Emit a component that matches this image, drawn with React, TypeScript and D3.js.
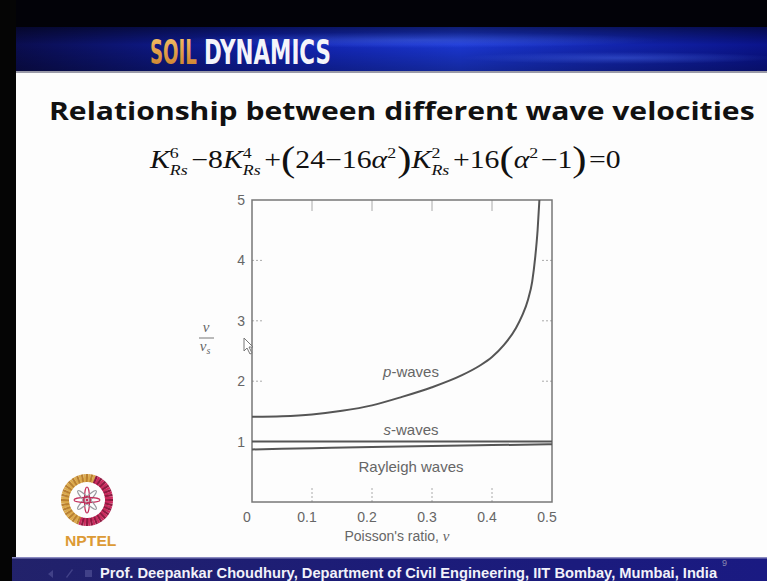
import React, { useLayoutEffect, useRef, useState } from "react";
import * as d3 from "d3";

// Poisson's ratio samples and velocity ratios v / v_s
const nuP = [0, 0.05, 0.1, 0.15, 0.2, 0.25, 0.3, 0.35, 0.38, 0.4, 0.42, 0.44, 0.45, 0.46, 0.467, 0.472, 0.476, 0.479];
const pWave = [1.41, 1.42, 1.45, 1.51, 1.6, 1.74, 1.9, 2.1, 2.26, 2.4, 2.6, 2.88, 3.08, 3.35, 3.65, 4.05, 4.5, 5.0];
const nuS = [0, 0.5];
const sWave = [1.0, 1.0];
const nuR = [0, 0.1, 0.2, 0.3, 0.4, 0.5];
const rayleigh = [0.87, 0.89, 0.91, 0.928, 0.942, 0.955];

const xTicks = [0, 0.1, 0.2, 0.3, 0.4, 0.5];
const yTicks = [1, 2, 3, 4, 5];
const innerXTicks = [0.1, 0.2, 0.3, 0.4];
const innerYTicks = [2, 3, 4];

const W = 767;
const H = 581;

const sans = "'Liberation Sans', Arial, Helvetica, sans-serif";
const serif = "'Liberation Serif', 'Times New Roman', serif";
const condensed = "'DejaVu Sans Condensed', 'Liberation Sans Narrow', sans-serif";

// Text squeezed horizontally to a given width, measured after layout
function FitText({ x, y, width, children, ...rest }: any) {
  const ref = useRef<SVGTextElement>(null);
  const [sx, setSx] = useState(1);
  useLayoutEffect(() => {
    if (ref.current) {
      const b = ref.current.getBBox();
      if (b.width > 0) setSx(width / b.width);
    }
  }, [width]);
  return (
    <g transform={`translate(${x},${y}) scale(${sx},1)`}>
      <text ref={ref} x={0} y={0} {...rest}>
        {children}
      </text>
    </g>
  );
}

function Equation() {
  const sub = 15;
  const big = 36;
  return (
    <FitText x={150} y={168} width={472} fontFamily={serif} fontSize={25} fill="#111">
      <tspan fontStyle="italic">K</tspan>
      <tspan fontSize={sub} dy={-10}>6</tspan>
      <tspan fontSize={sub} fontStyle="italic" dx={-7.5} dy={17}>Rs</tspan>
      <tspan dy={-7} dx={3}>−8</tspan>
      <tspan fontStyle="italic">K</tspan>
      <tspan fontSize={sub} dy={-10}>4</tspan>
      <tspan fontSize={sub} fontStyle="italic" dx={-7.5} dy={17}>Rs</tspan>
      <tspan dy={-7} dx={3}>+</tspan>
      <tspan fontSize={big} dy={3}>(</tspan>
      <tspan dy={-3}>24−16</tspan>
      <tspan fontStyle="italic">α</tspan>
      <tspan fontSize={sub} dy={-10}>2</tspan>
      <tspan fontSize={big} dy={13} dx={1}>)</tspan>
      <tspan fontStyle="italic" dy={-3}>K</tspan>
      <tspan fontSize={sub} dy={-10}>2</tspan>
      <tspan fontSize={sub} fontStyle="italic" dx={-7.5} dy={17}>Rs</tspan>
      <tspan dy={-7} dx={3}>+16</tspan>
      <tspan fontSize={big} dy={3}>(</tspan>
      <tspan fontStyle="italic" dy={-3}>α</tspan>
      <tspan fontSize={sub} dy={-10}>2</tspan>
      <tspan dy={10} dx={2}>−1</tspan>
      <tspan fontSize={big} dy={3}>)</tspan>
      <tspan dy={-3} dx={2}>=0</tspan>
    </FitText>
  );
}

function NptelLogo() {
  const cx = 87;
  const cy = 500;
  const n = 64;
  const stripes = d3.range(n).map((i) => {
    const a = (i / n) * Math.PI * 2;
    const left = Math.cos(a - 0.35) < 0;
    const color = left ? (i % 2 ? "#dcaa4c" : "#b98030") : i % 2 ? "#cc2a5e" : "#8e1a40";
    return (
      <line
        key={i}
        x1={cx + Math.cos(a) * 18}
        y1={cy + Math.sin(a) * 18}
        x2={cx + Math.cos(a) * 26}
        y2={cy + Math.sin(a) * 26}
        stroke={color}
        strokeWidth={2.4}
      />
    );
  });
  const petals = d3.range(4).map((i) => (
    <ellipse
      key={i}
      cx={cx}
      cy={cy}
      rx={2.6}
      ry={13}
      fill="none"
      stroke={i % 2 ? "#9a9aa0" : "#c2305c"}
      strokeWidth={1.1}
      transform={`rotate(${i * 45} ${cx} ${cy})`}
    />
  ));
  return (
    <g>
      {stripes}
      {petals}
      <circle cx={cx} cy={cy} r={3.5} fill="none" stroke="#c2305c" strokeWidth={1.2} />
      <circle cx={cx} cy={cy} r={1.5} fill="#c2305c" />
      <FitText x={65} y={546} width={52} fontFamily={sans} fontWeight="bold" fontSize={14} fill="#dc9a35">
        NPTEL
      </FitText>
    </g>
  );
}

export default function App() {
  const x = d3.scaleLinear().domain([0, 0.5]).range([252, 552]);
  const y = d3.scaleLinear().domain([0, 5]).range([502, 200]);

  const line = d3
    .line<[number, number]>()
    .x((d) => x(d[0]))
    .y((d) => y(d[1]))
    .curve(d3.curveMonotoneX);

  const pPath = line(nuP.map((v, i) => [v, pWave[i]] as [number, number])) || "";
  const sPath = line(nuS.map((v, i) => [v, sWave[i]] as [number, number])) || "";
  const rPath = line(nuR.map((v, i) => [v, rayleigh[i]] as [number, number])) || "";

  const [x0, x1] = x.range();
  const [y0, y1] = y.range();

  return (
    <svg width={W} height={H} style={{ position: "absolute", left: 0, top: 0 }} xmlns="http://www.w3.org/2000/svg">
      <defs>
        <linearGradient id="band" x1="0" x2="1" y1="0" y2="0">
          <stop offset="0" stopColor="#0a0c4a" />
          <stop offset="0.35" stopColor="#0f1fa8" />
          <stop offset="0.6" stopColor="#1a36d0" />
          <stop offset="1" stopColor="#0a138a" />
        </linearGradient>
        <linearGradient id="bandV" x1="0" x2="0" y1="0" y2="1">
          <stop offset="0" stopColor="#000" stopOpacity="0.45" />
          <stop offset="0.4" stopColor="#000" stopOpacity="0" />
          <stop offset="1" stopColor="#000" stopOpacity="0.25" />
        </linearGradient>
        <radialGradient id="streak" cx="0.5" cy="0.5" r="0.5">
          <stop offset="0" stopColor="#4a6cff" stopOpacity="0.55" />
          <stop offset="1" stopColor="#4a6cff" stopOpacity="0" />
        </radialGradient>
        <linearGradient id="soil" x1="0" x2="0" y1="0" y2="1">
          <stop offset="0" stopColor="#f6c26a" />
          <stop offset="1" stopColor="#c87a28" />
        </linearGradient>
        <linearGradient id="foot" x1="0" x2="1" y1="0" y2="0">
          <stop offset="0" stopColor="#22226a" />
          <stop offset="0.5" stopColor="#1c1c78" />
          <stop offset="1" stopColor="#1a1a82" />
        </linearGradient>
        <clipPath id="plotClip">
          <rect x={x0} y={y1} width={x1 - x0} height={y0 - y1} />
        </clipPath>
      </defs>

      {/* slide background */}
      <rect x={0} y={0} width={W} height={H} fill="#fdfdfd" />
      <rect x={0} y={0} width={W} height={27} fill="#020208" />

      {/* header band */}
      <rect x={0} y={27} width={W} height={44} fill="url(#band)" />
      <ellipse cx={420} cy={40} rx={240} ry={8} fill="url(#streak)" />
      <ellipse cx={620} cy={58} rx={160} ry={6} fill="url(#streak)" />
      <rect x={0} y={27} width={W} height={44} fill="url(#bandV)" />
      <rect x={0} y={71} width={W} height={2} fill="#9a9aa8" />
      <FitText x={150} y={64} width={47} fontFamily={condensed} fontWeight="bold" fontSize={33} fill="url(#soil)">
        SOIL
      </FitText>
      <FitText x={204} y={64} width={127} fontFamily={condensed} fontWeight="bold" fontSize={33} fill="#f4f4fa">
        DYNAMICS
      </FitText>

      {/* left border */}
      <rect x={0} y={0} width={16} height={H} fill="#050505" />

      {/* title and equation */}
      <FitText x={49} y={120} width={706} fontFamily="'Open Sans', 'DejaVu Sans', sans-serif" fontWeight="bold" fontSize={25} fill="#111">
        Relationship between different wave velocities
      </FitText>
      <Equation />

      {/* plot frame and ticks */}
      <g stroke="#aaa" strokeWidth={1}>
        {innerXTicks.map((t) => (
          <line key={"tt" + t} x1={x(t)} x2={x(t)} y1={y1} y2={y1 + 11} />
        ))}
        {innerXTicks.map((t) => (
          <line key={"bt" + t} x1={x(t)} x2={x(t)} y1={y0} y2={y0 - 14} strokeDasharray="2,2" />
        ))}
        {innerYTicks.map((t) => (
          <line key={"lt" + t} x1={x0} x2={x0 + 10} y1={y(t)} y2={y(t)} strokeDasharray="2,2" />
        ))}
        {innerYTicks.map((t) => (
          <line key={"rt" + t} x1={x1} x2={x1 - 10} y1={y(t)} y2={y(t)} strokeDasharray="2,2" />
        ))}
      </g>
      <rect x={x0} y={y1} width={x1 - x0} height={y0 - y1} fill="none" stroke="#777" strokeWidth={1.5} />

      {/* curves */}
      <g clipPath="url(#plotClip)" fill="none" stroke="#555" strokeWidth={2}>
        <path d={pPath} />
        <path d={sPath} />
        <path d={rPath} />
      </g>

      {/* tick labels */}
      <g fontFamily={sans} fontSize={14} fill="#666">
        {xTicks.map((t) => (
          <text key={"xl" + t} x={x(t) - 5} y={522} textAnchor="middle">
            {t === 0 ? "0" : d3.format(".1f")(t)}
          </text>
        ))}
        {yTicks.map((t) => (
          <text key={"yl" + t} x={245} y={y(t) + 5} textAnchor="end">
            {t}
          </text>
        ))}
      </g>

      {/* axis titles */}
      <text x={397} y={541} textAnchor="middle" fontFamily={sans} fontSize={14} fill="#666">
        Poisson's ratio, <tspan fontFamily={serif} fontStyle="italic" fontSize={15}>ν</tspan>
      </text>
      <g fontFamily={serif} fontStyle="italic" fill="#666" fontSize={15}>
        <text x={206} y={332} textAnchor="middle">v</text>
        <line x1={199} x2={214} y1={338} y2={338} stroke="#777" strokeWidth={1} />
        <text x={205} y={351} textAnchor="middle">
          v<tspan fontSize={10} dy={3}>s</tspan>
        </text>
      </g>

      {/* curve labels */}
      <g fontFamily={sans} fontSize={15} fill="#666" textAnchor="middle">
        <text x={411} y={377}>
          <tspan fontStyle="italic">p</tspan>-waves
        </text>
        <text x={411} y={435}>
          <tspan fontStyle="italic">s</tspan>-waves
        </text>
        <text x={411} y={472}>Rayleigh waves</text>
      </g>

      {/* pointer */}
      <path d="M244,338 L244,351 L247,348 L250,354 L252,353 L249,347 L253,347 Z" fill="#fff" stroke="#777" strokeWidth={1} />

      <NptelLogo />

      {/* footer */}
      <rect x={0} y={557} width={W} height={24} fill="url(#foot)" />
      <rect x={0} y={557} width={W} height={1.5} fill="#8a8ac0" />
      <rect x={0} y={557} width={12} height={24} fill="#050505" />
      <g fill="#4a4a90" opacity={0.8}>
        <path d="M48,574 l5,-4 l0,8 z" />
        <path d="M66,577 l6,-8 l1,1 l-6,8 z" />
        <rect x={85} y={570} width={7} height={7} />
      </g>
      <FitText x={100} y={578} width={618} fontFamily={sans} fontWeight="bold" fontSize={14} fill="#f2f2fa">
        Prof. Deepankar Choudhury, Department of Civil Engineering, IIT Bombay, Mumbai, India
      </FitText>
      <text x={722} y={566} fontFamily={sans} fontSize={9} fill="#8a8ab0">9</text>
    </svg>
  );
}
